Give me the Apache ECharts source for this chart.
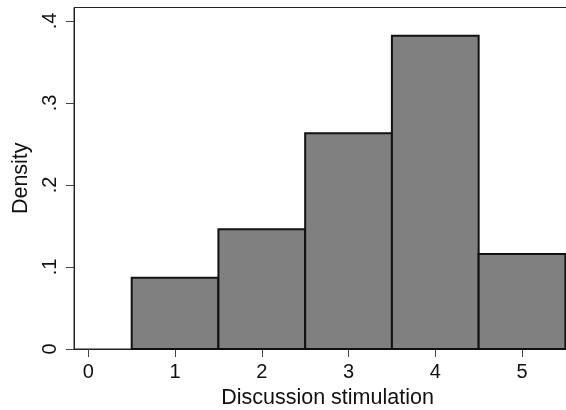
<!DOCTYPE html>
<html>
<head>
<meta charset="utf-8">
<script src="https://cdn.jsdelivr.net/npm/echarts@6/dist/echarts.min.js"></script>
<style>html,body{margin:0;padding:0;background:#fff}#c{width:566px;height:410px}</style>
</head>
<body>
<div id="c"></div>
<script>
// Histogram bins (bin start, bin end) and densities
const binStarts = [0.5, 1.5, 2.5, 3.5, 4.5];
const binEnds   = [1.5, 2.5, 3.5, 4.5, 5.5];
const densities = [0.087, 0.146, 0.263, 0.382, 0.116];
const xTicks = [0, 1, 2, 3, 4, 5];
const yTicks = [0, 0.1, 0.2, 0.3, 0.4];
const yTickLabels = ['0', '.1', '.2', '.3', '.4'];
const xTitle = 'Discussion stimulation';
const yTitle = 'Density';

const data = binStarts.map((s, i) => [s, binEnds[i], densities[i]]);
const font = 'Liberation Sans, Arial, sans-serif';

const chart = echarts.init(document.getElementById('c'), null, {renderer: 'canvas'});
chart.setOption({
  animation: false,
  backgroundColor: '#fff',
  grid: {left: 74, right: -15, top: 7.5, bottom: 61, containLabel: false, outerBoundsMode: 'none',
    show: true, borderColor: '#222', borderWidth: 1, backgroundColor: 'transparent'},
  xAxis: {
    type: 'value', min: -0.165, max: 5.68,
    name: xTitle, nameLocation: 'middle', nameGap: 35,
    nameTextStyle: {fontFamily: font, fontSize: 21.5, color: '#111'},
    splitLine: {show: false},
    axisLine: {show: true, onZero: false, lineStyle: {color: '#222', width: 1}},
    axisTick: {show: true, length: 8, lineStyle: {color: '#444'}, customValues: xTicks},
    axisLabel: {fontFamily: font, fontSize: 20, color: '#111', margin: 13, customValues: xTicks,
      formatter: v => String(v)}
  },
  yAxis: {
    type: 'value', min: 0, max: 0.4165,
    name: yTitle, nameLocation: 'middle', nameGap: 38, nameRotate: 90,
    nameTextStyle: {fontFamily: font, fontSize: 21.5, color: '#111'},
    splitLine: {show: false},
    axisLine: {show: true, onZero: false, lineStyle: {color: '#222', width: 1}},
    axisTick: {show: true, length: 8, lineStyle: {color: '#444'}, customValues: yTicks},
    axisLabel: {fontFamily: font, fontSize: 20, color: '#111', margin: 14, rotate: 90, customValues: yTicks,
      formatter: v => { const i = yTicks.findIndex(t => Math.abs(t - v) < 1e-9); return i >= 0 ? yTickLabels[i] : ''; }}
  },
  series: [{
    type: 'custom',
    data: data,
    encode: {x: [0, 1], y: 2},
    renderItem: function (params, api) {
      const p0 = api.coord([api.value(0), 0]);
      const p1 = api.coord([api.value(1), api.value(2)]);
      return {
        type: 'rect',
        shape: {x: p0[0], y: p1[1], width: p1[0] - p0[0], height: p0[1] - p1[1]},
        style: {fill: '#808080', stroke: '#111', lineWidth: 2}
      };
    }
  }]
});
</script>
</body>
</html>
